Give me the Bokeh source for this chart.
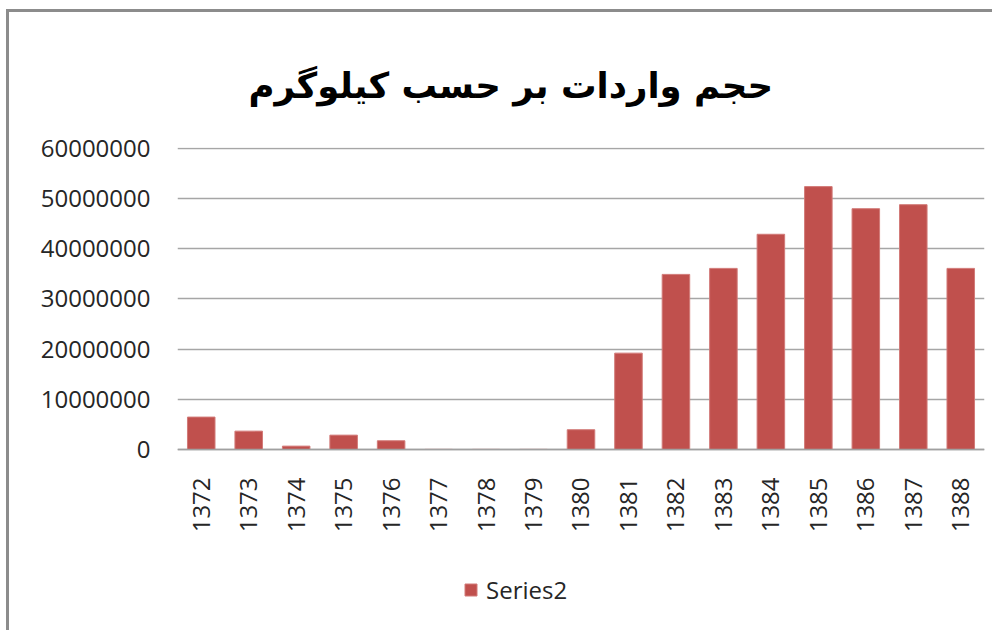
from bokeh.plotting import figure
from bokeh.models import FactorRange, Range1d, Legend, LegendItem, NumeralTickFormatter
from bokeh.embed import file_html
from bokeh.resources import INLINE
import math

years = ["1372", "1373", "1374", "1375", "1376", "1377", "1378", "1379", "1380",
         "1381", "1382", "1383", "1384", "1385", "1386", "1387", "1388"]
series2 = [6450000, 3650000, 660000, 2850000, 1730000, 0, 0, 0, 3930000,
           19200000, 34900000, 36100000, 42900000, 52400000, 48000000, 48800000, 36100000]
title_text = "حجم واردات بر حسب کیلوگرم"
series_name = "Series2"
y_ticks = [0, 10000000, 20000000, 30000000, 40000000, 50000000, 60000000]

# frame extends below zero so the legend (drawn inside the frame) stays visible
p = figure(x_range=FactorRange(*years), y_range=Range1d(-36100000, 60200000),
           frame_width=807, frame_height=483, output_backend="svg", toolbar_location=None,
           min_border_left=168, min_border_right=8, min_border_top=135, min_border_bottom=0)
p.styles = {"border-left": "3px solid #8c8c8c", "border-top": "3px solid #8c8c8c",
            "margin-left": "6px", "margin-top": "9px"}
p.outline_line_color = None
p.background_fill_color = "white"
p.border_fill_color = "white"

r = p.vbar(x=years, top=series2, width=0.58, fill_color="#c0504d", line_color="#d27a78", line_width=1)

p.title.text = title_text
p.title.align = "left"
p.title.offset = 71
p.title.standoff = 83
p.title.text_font = "DejaVu Sans"
p.title.text_font_style = "bold"
p.title.text_font_size = "35.5px"
p.title.text_color = "black"

p.xgrid.grid_line_color = None
p.ygrid.grid_line_color = "#a6a6a6"
p.ygrid.grid_line_width = 1.5

p.yaxis.ticker = y_ticks
p.yaxis.formatter = NumeralTickFormatter(format="0")
p.yaxis.axis_line_color = None
p.yaxis.major_tick_line_color = None
p.yaxis.minor_tick_line_color = None
p.yaxis.major_tick_out = 0
p.yaxis.major_label_standoff = 27
p.yaxis.major_label_text_font = "Open Sans"
p.yaxis.major_label_text_font_size = "24px"
p.yaxis.major_label_text_color = "#262626"

p.xaxis.fixed_location = 0
p.xaxis.axis_line_color = "#a0a0a0"
p.xaxis.axis_line_width = 1.5
p.xaxis.major_tick_line_color = None
p.xaxis.major_tick_out = 0
p.xaxis.major_label_orientation = math.pi / 2
p.xaxis.major_label_standoff = 28
p.xaxis.major_label_text_font = "Open Sans"
p.xaxis.major_label_text_font_size = "24px"
p.xaxis.major_label_text_color = "#262626"

legend = Legend(items=[LegendItem(label=series_name, renderers=[r])],
                location=(286, 24), orientation="horizontal",
                glyph_width=15, glyph_height=15, label_standoff=8,
                label_text_font="Open Sans", label_text_font_size="24px",
                label_text_color="#262626", padding=0, margin=0,
                border_line_color=None, background_fill_alpha=0)
p.add_layout(legend, "center")

open("out.html", "w").write(file_html(p, INLINE))
